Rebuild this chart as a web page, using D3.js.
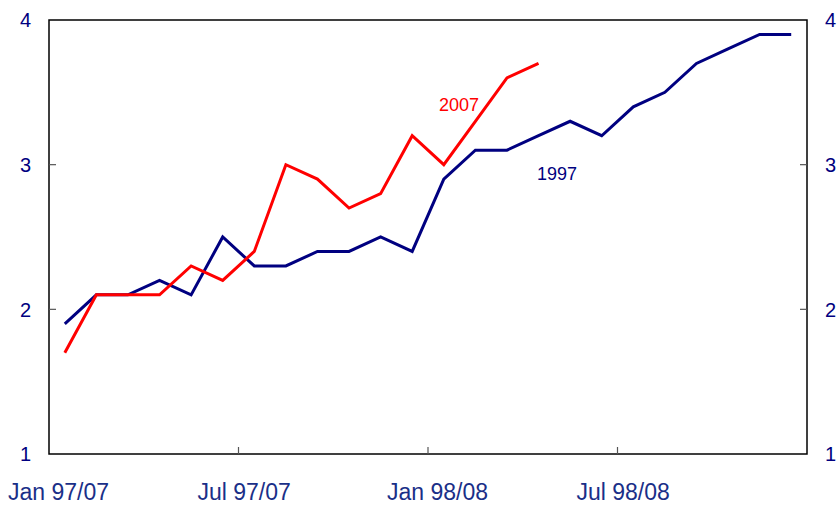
<!DOCTYPE html>
<html><head><meta charset="utf-8">
<script src="https://cdn.jsdelivr.net/npm/d3@7"></script>
<style>body{margin:0;background:#fff}svg{display:block}text{font-family:"Liberation Sans",Arial,sans-serif}</style>
</head><body>
<svg id="c" width="838" height="507"></svg>
<script>
const months = ["Jan","Feb","Mar","Apr","May","Jun","Jul","Aug","Sep","Oct","Nov","Dec",
                "Jan","Feb","Mar","Apr","May","Jun","Jul","Aug","Sep","Oct","Nov","Dec"];
const series1997 = [1.9,2.1,2.1,2.2,2.1,2.5,2.3,2.3,2.4,2.4,2.5,2.4,2.9,3.1,3.1,3.2,3.3,3.2,3.4,3.5,3.7,3.8,3.9,3.9];
const series2007 = [1.7,2.1,2.1,2.1,2.3,2.2,2.4,3.0,2.9,2.7,2.8,3.2,3.0,3.3,3.6,3.7];
const xTickIndex = [0,6,12,18];
const xTickLabels = ["Jan 97/07","Jul 97/07","Jan 98/08","Jul 98/08"];
const yTicks = [1,2,3,4];

const svg = d3.select("#c");
const L = 49, R = 807, T = 20, B = 454;
const idx = d3.range(months.length);
const x = d3.scaleBand().domain(idx).range([L, R]).padding(0);
const y = d3.scaleLinear().domain([1,4]).range([B, T]);
const cx = i => x(i) + x.bandwidth()/2;

const navy = "#000080", red = "#ff0000";

// frame
svg.append("rect").attr("x",L).attr("y",T).attr("width",R-L).attr("height",B-T)
  .attr("fill","none").attr("stroke","#000").attr("stroke-width",1.5);

// y ticks (inward) left & right
const yInner = yTicks.filter(v => v>1 && v<4);
svg.selectAll(".ytl").data(yInner).enter().append("line")
  .attr("x1",L).attr("x2",L+7).attr("y1",d=>y(d)).attr("y2",d=>y(d)).attr("stroke","#555").attr("stroke-width",1.2);
svg.selectAll(".ytr").data(yInner).enter().append("line")
  .attr("x1",R).attr("x2",R-7).attr("y1",d=>y(d)).attr("y2",d=>y(d)).attr("stroke","#555").attr("stroke-width",1.2);

// y labels
svg.selectAll(".yl").data(yTicks).enter().append("text")
  .attr("x",31).attr("y",d=>y(d)).attr("dy","0.36em").attr("text-anchor","end")
  .attr("font-size",20).attr("fill",navy).text(d=>d);
svg.selectAll(".yr").data(yTicks).enter().append("text")
  .attr("x",825).attr("y",d=>y(d)).attr("dy","0.36em").attr("text-anchor","start")
  .attr("font-size",20).attr("fill",navy).text(d=>d);

// x ticks (inward)
svg.selectAll(".xt").data(xTickIndex.filter(i=>i>0)).enter().append("line")
  .attr("x1",d=>x(d)).attr("x2",d=>x(d)).attr("y1",B).attr("y2",B-7).attr("stroke","#555").attr("stroke-width",1.2);
svg.selectAll(".xl").data(xTickIndex).enter().append("text")
  .attr("x",d=>x(d)-41).attr("y",500).attr("text-anchor","start")
  .attr("font-size",23).attr("fill","#1a2f88").text((d,i)=>xTickLabels[i]);

// lines
const line = d3.line().x((d,i)=>cx(i)).y(d=>y(d));
svg.append("path").datum(series1997).attr("d",line).attr("fill","none")
  .attr("stroke",navy).attr("stroke-width",3).attr("stroke-linejoin","miter");
svg.append("path").datum(series2007).attr("d",line).attr("fill","none")
  .attr("stroke",red).attr("stroke-width",3).attr("stroke-linejoin","miter");

// series labels
svg.append("text").attr("x",439).attr("y",111).attr("font-size",18).attr("fill",red).text("2007");
svg.append("text").attr("x",537).attr("y",180).attr("font-size",18).attr("fill",navy).text("1997");
</script>
</body></html>
